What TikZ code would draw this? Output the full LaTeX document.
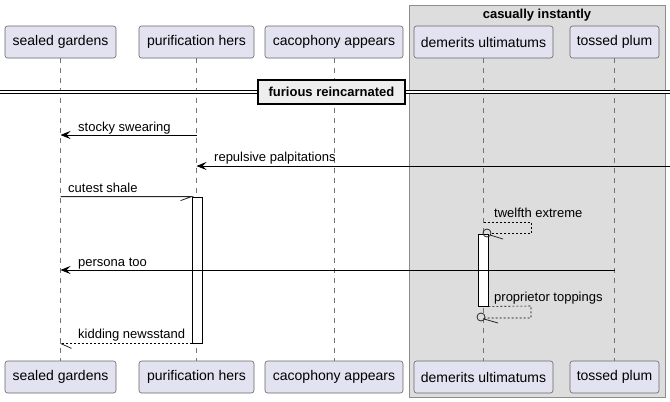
\documentclass[tikz,border=0pt]{standalone}
\usepackage{fontspec}
\setmainfont{Liberation Sans}
\usetikzlibrary{arrows.meta,positioning}
\definecolor{partfill}{HTML}{E2E2F0}
\definecolor{grpfill}{HTML}{DDDDDD}
\definecolor{divfill}{HTML}{EEEEEE}
\begin{document}
\begin{tikzpicture}[x=1pt,y=-1pt,
  actor/.style={draw=black!60,fill=partfill,rounded corners=2.5pt,line width=0.6pt,minimum height=32pt,inner sep=0pt,font=\fontsize{14}{16}\selectfont},
  life/.style={draw=black!55,line width=0.5pt,dash pattern=on 5pt off 5pt},
  bar/.style={draw=black,fill=white,line width=0.8pt,minimum width=10pt,inner sep=0pt},
  msg/.style={line width=0.8pt,-{Stealth[length=10pt,width=8pt,inset=4pt]}},
  reply/.style={line width=0.6pt,dash pattern=on 2pt off 2pt},
  barb/.style={line width=0.8pt,draw=black!85},
  lbl/.style={font=\fontsize{13}{15}\selectfont,anchor=base west,inner sep=0pt}]
\useasboundingbox (0,0) rectangle (670,402);
\draw[draw=black!45,fill=grpfill,line width=0.6pt] (409,5) rectangle (665,397);
\node[font=\fontsize{13}{15}\selectfont\bfseries] (grpT) at (537,15) {casually instantly};
\node[actor,minimum width=111pt] (garT) at (60.5,42) {sealed gardens};
\node[actor,minimum width=115pt] (purT) at (196.5,42) {purification hers};
\node[actor,minimum width=138pt] (cacT) at (334,42) {cacophony appears};
\node[actor,minimum width=139pt] (demT) at (483.5,42) {demerits ultimatums};
\node[actor,minimum width=89pt] (tosT) at (614.5,42) {tossed plum};
\node[actor,minimum width=111pt] (garB) at (60.5,377) {sealed gardens};
\node[actor,minimum width=115pt] (purB) at (196.5,377) {purification hers};
\node[actor,minimum width=138pt] (cacB) at (334,377) {cacophony appears};
\node[actor,minimum width=139pt] (demB) at (483.5,377) {demerits ultimatums};
\node[actor,minimum width=89pt] (tosB) at (614.5,377) {tossed plum};
\foreach \p in {gar,pur,cac,dem,tos}
  \draw[life] (\p T.south) -- (\p B.north);
\draw[double,double distance=2pt,line width=0.7pt] (0,92) -- (670,92);
\node[draw=black,fill=divfill,line width=1.6pt,minimum width=147pt,minimum height=24pt,inner sep=0pt,font=\fontsize{13}{15}\selectfont\bfseries] (divN) at (331.5,92) {furious reincarnated};
\node[bar,minimum height=146pt] (barP) at (197,270) {};
\node[bar,minimum height=72pt] (barD) at (483,270) {};
\coordinate (edgeR) at (670,166);
\draw[msg] (purT.south |- 0,135) -- (garT.south |- 0,135);
\node[lbl] (m1) at (78,131) {stocky swearing};
\draw[msg] (edgeR) -- (purT.south |- edgeR);
\node[lbl] (m2) at (214,161) {repulsive palpitations};
\draw[barb] (garT.south |- barP.north) -- (barP.north west) -- ++(-11,4);
\node[lbl] (m3) at (68,192) {cutest shale};
\draw[reply] (demT.south |- 0,222) -- (531,222) -- (531,233) -- (491,233);
\draw[barb] (487,233) circle (4pt) (490,235) -- ++(13,4);
\node[lbl] (m4) at (494,217) {twelfth extreme};
\draw[msg] (tosT.south |- 0,270) -- (garT.south |- 0,270);
\node[lbl] (m5) at (78,266) {persona too};
\draw[reply] (barD.south east) -- (531,306) -- (531,318) -- (485,318);
\draw[barb] (481,317) circle (4pt) (484,319) -- ++(14,4);
\node[lbl] (m6) at (494,301) {proprietor toppings};
\draw[reply] (barP.south west) -- (garT.south |- barP.south);
\draw[barb] (garT.south |- barP.south) -- ++(11,5);
\node[lbl] (m7) at (78,338) {kidding newsstand};
\end{tikzpicture}
\end{document}
